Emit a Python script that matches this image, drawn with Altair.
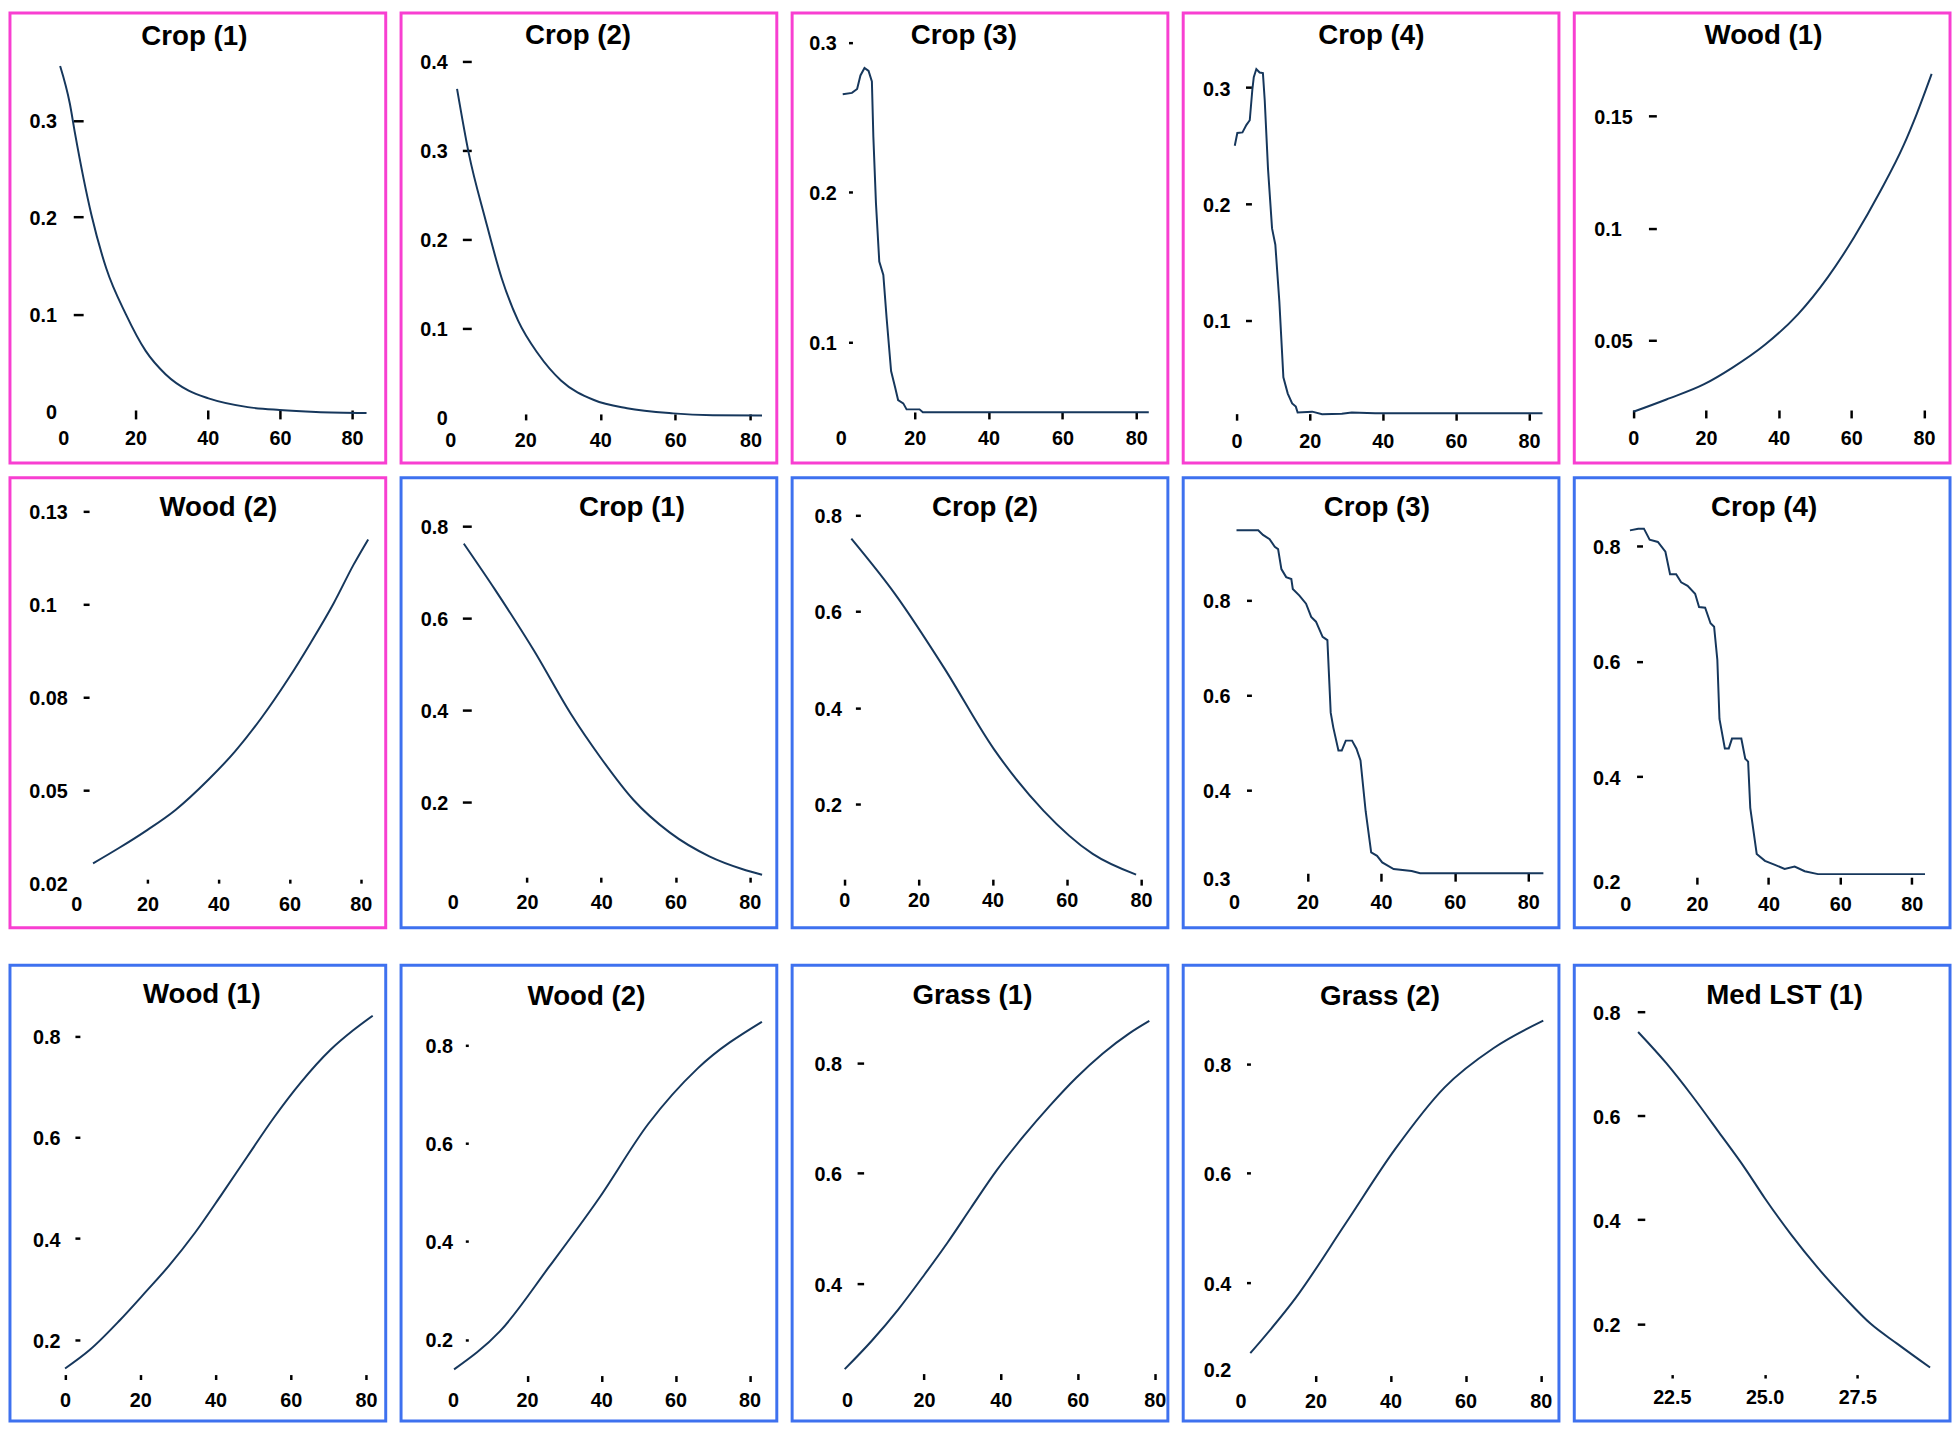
import altair as alt
import pandas as pd

FONT = "Liberation Sans"
PINK = "#f83fd1"
BLUE = "#3e71ef"
INK = "#16375c"

# ---------------- data ----------------
titles = ["Crop (1)", "Crop (2)", "Crop (3)", "Crop (4)", "Wood (1)",
          "Wood (2)", "Crop (1)", "Crop (2)", "Crop (3)", "Crop (4)",
          "Wood (1)", "Wood (2)", "Grass (1)", "Grass (2)", "Med LST (1)"]
borders = [PINK] * 6 + [BLUE] * 9

p1_x = [-0.9, 1.8, 3.2, 7.8, 11.9, 17.3, 22.8, 28.3, 34.7, 40.2, 51.1, 59.9, 70, 84]
p1_y = [0.356, 0.317, 0.287, 0.202, 0.147, 0.100, 0.062, 0.038, 0.021, 0.013, 0.004, 0.001, -0.001, -0.002]

p2_x = [1.8, 4.9, 9.3, 13.7, 18.1, 23.4, 29.5, 38.3, 47.1, 59.4, 70, 83.1]
p2_y = [0.369, 0.297, 0.223, 0.156, 0.108, 0.071, 0.041, 0.019, 0.0097, 0.004, 0.002, 0.0015]

p3_x = [0.5, 3.0, 4.4, 5.3, 6.4, 7.5, 8.4, 8.8, 9.5, 10.4, 11.5, 12.4, 13.6, 14.7, 15.5, 16.9, 17.8, 21.3, 22.2, 83.4]
p3_y = [0.2655, 0.2664, 0.269, 0.278, 0.283, 0.281, 0.274, 0.237, 0.193, 0.154, 0.145, 0.116, 0.081, 0.070,
        0.0616, 0.0594, 0.0554, 0.0554, 0.0535, 0.0535]

p4_x = [-0.5, 0.2, 1.6, 2.7, 3.6, 4.3, 4.7, 5.4, 6.3, 7.2, 7.7, 8.6, 9.7, 10.6, 11.7, 12.8, 14.0, 15.2, 16.2,
        16.7, 20.7, 23.4, 28.8, 31.5, 37.9, 83.7]
p4_y = [0.250, 0.261, 0.2615, 0.268, 0.272, 0.298, 0.309, 0.316, 0.313, 0.3125, 0.289, 0.230, 0.179, 0.165,
        0.116, 0.051, 0.037, 0.0286, 0.0258, 0.0207, 0.0215, 0.0193, 0.0196, 0.0207, 0.0201, 0.0201]

p5_x = [0, 9.1, 19.5, 27.2, 36.3, 45.3, 53.5, 60.8, 68.0, 74.4, 78.0, 82.1]
p5_y = [0.0180, 0.0235, 0.0303, 0.0376, 0.0480, 0.0615, 0.0780, 0.0960, 0.1165, 0.1370, 0.1510, 0.1688]

p6_x = [4.7, 12.1, 19.5, 27.9, 37.2, 44.6, 52.0, 59.4, 65.9, 72.4, 78.0, 82.1]
p6_y = [0.0302, 0.0344, 0.0389, 0.0446, 0.0528, 0.0603, 0.0693, 0.0796, 0.0896, 0.1003, 0.1107, 0.1175]

p7_x = [3.0, 11.4, 22.0, 31.8, 39.8, 48.7, 58.4, 69.1, 77.9, 83.3]
p7_y = [0.762, 0.662, 0.528, 0.392, 0.297, 0.2045, 0.134, 0.082, 0.0545, 0.042]

p8_x = [1.9, 13.7, 27.0, 40.3, 53.7, 67.0, 78.7]
p8_y = [0.751, 0.636, 0.482, 0.315, 0.187, 0.097, 0.054]

p9_x = [0.7, 6.6, 7.9, 9.7, 11.1, 12.0, 12.9, 14.2, 15.6, 16.0, 17.8, 19.6, 21.0, 22.3, 24.1, 25.4, 26.3, 27.0,
        28.4, 29.3, 30.4, 32.1, 33.3, 34.4, 35.8, 37.3, 38.9, 40.3, 43.4, 48.3, 50.6, 84.1]
p9_y = [0.948, 0.948, 0.938, 0.929, 0.913, 0.908, 0.866, 0.849, 0.845, 0.824, 0.810, 0.793, 0.765, 0.755, 0.723,
        0.716, 0.563, 0.532, 0.483, 0.483, 0.504, 0.504, 0.487, 0.462, 0.355, 0.268, 0.261, 0.247, 0.233, 0.229,
        0.224, 0.224]

p10_x = [1.3, 3.6, 5.2, 6.8, 9.1, 11.2, 12.5, 14.2, 15.6, 17.4, 19.5, 20.6, 22.3, 23.8, 24.8, 25.7, 26.3, 27.8,
         28.9, 29.8, 32.4, 33.5, 34.3, 34.9, 36.7, 39.0, 41.8, 44.5, 47.3, 50.1, 53.8, 83.7]
p10_y = [0.827, 0.830, 0.830, 0.811, 0.807, 0.790, 0.751, 0.751, 0.737, 0.731, 0.717, 0.694, 0.693, 0.666, 0.660,
         0.603, 0.500, 0.449, 0.449, 0.466, 0.466, 0.431, 0.426, 0.346, 0.266, 0.254, 0.247, 0.240, 0.244, 0.236,
         0.231, 0.231]

p11_x = [0, 6.6, 14.5, 21.5, 27.6, 34.6, 41.6, 48.6, 55.6, 62.6, 70.5, 76.6, 81.8]
p11_y = [0.143, 0.180, 0.238, 0.295, 0.346, 0.412, 0.487, 0.564, 0.640, 0.708, 0.773, 0.812, 0.841]

p12_x = [0.3, 12.7, 26.0, 39.3, 52.7, 66.0, 83.3]
p12_y = [0.139, 0.217, 0.349, 0.487, 0.640, 0.753, 0.848]

p13_x = [-0.6, 6.5, 13.3, 20.2, 26.2, 32.2, 39.0, 45.9, 52.7, 59.6, 66.5, 73.3, 78.6]
p13_y = [0.245, 0.297, 0.353, 0.417, 0.475, 0.537, 0.606, 0.667, 0.722, 0.773, 0.817, 0.853, 0.876]

p14_x = [2.6, 14.8, 28.0, 41.2, 54.4, 67.5, 80.7]
p14_y = [0.271, 0.373, 0.508, 0.644, 0.757, 0.829, 0.879]

p15_x = [21.59, 22.35, 23.06, 23.77, 24.48, 25.01, 25.72, 26.43, 27.15, 27.86, 28.57, 29.46]
p15_y = [0.761, 0.701, 0.637, 0.568, 0.498, 0.441, 0.371, 0.308, 0.251, 0.200, 0.162, 0.116]

series_x = [p1_x, p2_x, p3_x, p4_x, p5_x, p6_x, p7_x, p8_x, p9_x, p10_x, p11_x, p12_x, p13_x, p14_x, p15_x]
series_y = [p1_y, p2_y, p3_y, p4_y, p5_y, p6_y, p7_y, p8_y, p9_y, p10_y, p11_y, p12_y, p13_y, p14_y, p15_y]

# tick values and the text printed at them
x_ticks_age = [0, 20, 40, 60, 80]
x_labels_age = ["0", "20", "40", "60", "80"]
x_ticks_lst = [22.5, 25.0, 27.5]
x_labels_lst = ["22.5", "25.0", "27.5"]

y_ticks = [
    [0, 0.1, 0.2, 0.3], [0, 0.1, 0.2, 0.3, 0.4], [0.1, 0.2, 0.3], [0.1, 0.2, 0.3], [0.05, 0.1, 0.15],
    [0.025, 0.05, 0.075, 0.1, 0.125], [0.2, 0.4, 0.6, 0.8], [0.2, 0.4, 0.6, 0.8],
    [0.214, 0.4, 0.6, 0.8], [0.219, 0.4, 0.6, 0.8], [0.2, 0.4, 0.6, 0.8], [0.2, 0.4, 0.6, 0.8],
    [0.4, 0.6, 0.8], [0.242, 0.4, 0.6, 0.8], [0.2, 0.4, 0.6, 0.8]]
y_labels = [
    ["0", "0.1", "0.2", "0.3"], ["0", "0.1", "0.2", "0.3", "0.4"], ["0.1", "0.2", "0.3"], ["0.1", "0.2", "0.3"],
    ["0.05", "0.1", "0.15"], ["0.02", "0.05", "0.08", "0.1", "0.13"], ["0.2", "0.4", "0.6", "0.8"],
    ["0.2", "0.4", "0.6", "0.8"], ["0.3", "0.4", "0.6", "0.8"], ["0.2", "0.4", "0.6", "0.8"],
    ["0.2", "0.4", "0.6", "0.8"], ["0.2", "0.4", "0.6", "0.8"], ["0.4", "0.6", "0.8"],
    ["0.2", "0.4", "0.6", "0.8"], ["0.2", "0.4", "0.6", "0.8"]]
y_untick = [[0], [0], [], [], [], [0.025], [], [], [0.214], [0.219], [], [], [], [0.242], []]
x_untick = [[0], [0], [0], [], [], [0], [0], [], [0], [0], [], [0], [0], [0], []]

# ---------------- layout (pixels inside each framed panel) ----------------
W = 380
ROW_H = [455, 455, 461]
# per-row shifts (subtracted from reference positions): title, y axis, x axis
ROW_DY = [(8, 5.5, 3.5), (0, 0, -3), (0, -1, -5)]
TITLE_SHIFT = 27.5
# x anchors (v1,p1,v2,p2), y anchors (v1,p1,v2,p2), yaxis(pos,size,edge,align),
# xaxis(top,size,labelcenter), title(cx,base), interpolation
LAYOUT = [
    ((0, 54, 80, 346), (0, 408, 0.3, 114), (74, 10, 47, "right"), (405, 9, 434), (186.5, 41), "monotone"),
    ((0, 49.8, 80, 353.3), (0, 414, 0.4, 54.3), (71, 9, 46.7, "right"), (409, 6, 436), (179, 40), "monotone"),
    ((0, 49.3, 80, 348), (0.1, 338.7, 0.3, 35.3), (61, 4, 44.7, "right"), (407, 7, 433.7), (173.7, 39.7), "linear"),
    ((0, 54, 80, 349.7), (0.1, 316.3, 0.3, 81), (69, 6, 47.3, "right"), (408.7, 6.6, 437), (190.3, 40), "linear"),
    ((0, 59.7, 80, 353.7), (0.05, 336.3, 0.15, 109.7), (83, 8, 19.7, "left"), (405, 8, 433.7), (191.3, 40.3), "monotone"),
    ((0, 67.1, 80, 354.7), (0.025, 409.5, 0.125, 34.2), (80, 6, 19, "left"), (403, 4, 429), (210.7, 39), "monotone"),
    ((0, 52.2, 80, 352.7), (0.2, 328, 0.8, 49), (71, 9, 47.3, "right"), (401, 5, 426.7), (233.5, 39), "monotone"),
    ((0, 52.75, 80, 352.75), (0.2, 330.25, 0.8, 37.75), (69, 5, 50, "right"), (403, 6, 425), (195, 39), "monotone"),
    ((0, 51.3, 80, 349), (0.4, 315.7, 0.8, 124), (69, 5, 47.3, "right"), (397, 8, 427), (195.8, 39), "linear"),
    ((0, 51.6, 80, 341.3), (0.4, 302.3, 0.8, 69), (69, 6, 46.3, "right"), (401, 7, 429), (192, 39), "linear"),
    ((0, 55.7, 80, 360), (0.2, 377.7, 0.8, 71), (70.7, 5, 50.7, "right"), (409, 5, 435.7), (194, 39), "monotone"),
    ((0, 52.5, 80, 352.5), (0.2, 377.5, 0.8, 80), (68, 3, 52, "right"), (410, 6, 435), (187.5, 41), "monotone"),
    ((0, 55.5, 80, 366.7), (0.4, 321, 0.8, 97.7), (72.3, 6.6, 50, "right"), (408, 6, 435), (182.3, 40), "monotone"),
    ((0, 58, 80, 361.5), (0.4, 320, 0.8, 98.75), (68, 4, 48, "right"), (410, 6, 436), (199, 41), "monotone"),
    ((22.5, 98.7, 27.5, 286.3), (0.2, 361.7, 0.8, 46), (71.3, 7.6, 46.3, "right"), (409, 3.5, 432), (212.7, 40), "monotone"),
]


def span(anchor, ticks, shift=0.0):
    v1, p1, v2, p2 = anchor
    k = (p2 - p1) / (v2 - v1)
    lo, hi = min([v1] + list(ticks)), max([v2] + list(ticks))
    return [lo, hi], [p1 + (lo - v1) * k - shift, p1 + (hi - v1) * k - shift]


def label_expr(vals, labels):
    parts = [f"abs(datum.value - {v}) < 1e-9 ? '{t}'" for v, t in zip(vals, labels)]
    return " : ".join(parts) + " : ''"


def tick_opacity(hidden):
    if not hidden:
        return 1
    test = " || ".join(f"abs(datum.value - {v}) < 1e-9" for v in hidden)
    return {"condition": {"test": test, "value": 0}, "value": 1}


def panel(i, r):
    H = ROW_H[r]
    dt, dyy, dx_ = ROW_DY[r]
    xa_, ya_, ya, xa, tt, interp = LAYOUT[i]
    ypos, ysize, yedge, yalign = ya
    xtop, xsize, xlabc = xa
    xtop -= dx_
    xlabc -= dx_
    tcx, tbase = tt
    tbase -= dt
    if i == 14:
        xt, xl = x_ticks_lst, x_labels_lst
    else:
        xt, xl = x_ticks_age, x_labels_age
    xd, xr = span(xa_, xt)
    yd, yr = span(ya_, y_ticks[i], dyy)
    df = pd.DataFrame({"x": series_x[i], "y": series_y[i]})
    common = dict(domain=False, grid=False, title=None, labelFlush=False, labelOverlap=False,
                  tickWidth=2.5, tickColor="black", labelFont=FONT, labelFontSize=20,
                  labelFontWeight="bold", labelColor="black")
    xaxis = alt.Axis(values=xt, labelExpr=label_expr(xt, xl), orient="bottom",
                     offset=-(H - xtop), tickSize=xsize, labelPadding=xlabc - xtop - xsize,
                     labelBaseline="middle", tickOpacity=tick_opacity(x_untick[i]), **common)
    yaxis = alt.Axis(values=y_ticks[i], labelExpr=label_expr(y_ticks[i], y_labels[i]), orient="left",
                     offset=-ypos, tickSize=ysize, labelPadding=ypos - ysize - yedge,
                     labelAlign=yalign, labelBaseline="middle", labelOffset=1.5,
                     tickOpacity=tick_opacity(y_untick[i]), **common)
    return alt.Chart(df).mark_line(color=INK, strokeWidth=2, interpolate=interp).encode(
        x=alt.X("x:Q", scale=alt.Scale(domain=xd, range=xr, nice=False, zero=False), axis=xaxis),
        y=alt.Y("y:Q", scale=alt.Scale(domain=yd, range=yr, nice=False, zero=False), axis=yaxis),
    ).properties(
        width=W, height=H,
        view=alt.ViewBackground(stroke=borders[i], strokeWidth=3, fill="white"),
        title=alt.TitleParams(text=titles[i], anchor="middle", frame="group", orient="top",
                              offset=-(tbase + TITLE_SHIFT), baseline="alphabetic", dx=tcx - W / 2,
                              font=FONT, fontSize=28, fontWeight="bold", color="black"),
    )


rows = [alt.hconcat(*[panel(r * 5 + c, r) for c in range(5)], spacing=11.5) for r in range(3)]
chart = alt.vconcat(rows[0], alt.vconcat(rows[1], rows[2], spacing=34), spacing=11).properties(
    padding={"left": 0, "top": -5, "right": 0, "bottom": 0}, background="white"
).configure(font=FONT)

chart.save("out.html", embed_options={"renderer": "svg", "actions": False})
